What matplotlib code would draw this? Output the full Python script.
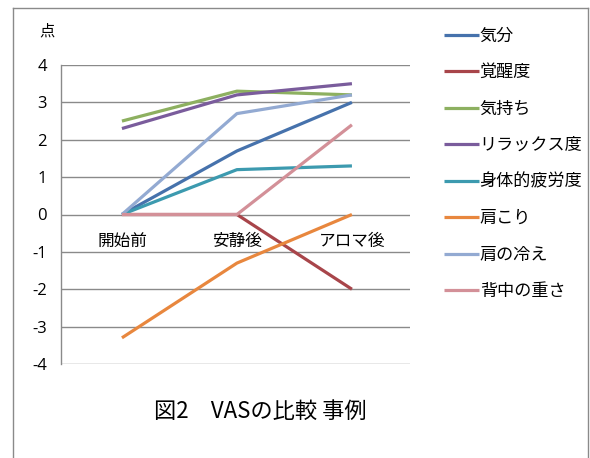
import matplotlib
matplotlib.use("Agg")
import matplotlib.pyplot as plt
from matplotlib.lines import Line2D

plt.rcParams['font.family'] = ['Noto Sans CJK JP', 'DejaVu Sans']

categories = ["開始前", "安静後", "アロマ後"]
series_names = ["気分", "覚醒度", "気持ち", "リラックス度", "身体的疲労度", "肩こり", "肩の冷え", "背中の重さ"]
kibun = [0, 1.7, 3.0]
kakuseido = [0, 0, -2.0]
kimochi = [2.5, 3.3, 3.2]
relax = [2.3, 3.2, 3.5]
hirou = [0, 1.2, 1.3]
katakori = [-3.3, -1.3, 0]
katanohie = [0, 2.7, 3.2]
senaka = [0, 0, 2.4]
yticks = [4, 3, 2, 1, 0, -1, -2, -3, -4]

series_values = [kibun, kakuseido, kimochi, relax, hirou, katakori, katanohie, senaka]
colors = ["#4672AC", "#A8454A", "#8DB060", "#7A5C9C", "#3C9AAF", "#E8873E", "#93AAD2", "#D39098"]

fig = plt.figure(figsize=(5.9, 4.58), dpi=100)
ax = fig.add_axes([61/590, 1-364/458, (410-61)/590, (364-65)/458])

x = list(range(len(categories)))
handles = []
for name, vals, c in zip(series_names, series_values, colors):
    h, = ax.plot(x, vals, color=c, lw=2.3, solid_capstyle='butt', label=name)
    handles.append(h)

ax.set_xlim(-0.53, 2.505)
ax.set_ylim(-4, 4)

ax.spines['bottom'].set_position(('data', 0))
ax.spines['bottom'].set_visible(False)
for s in ['top', 'right']:
    ax.spines[s].set_visible(False)
ax.spines['left'].set_color("#8a8a8a")
ax.spines['left'].set_linewidth(1)

ax.set_yticks(yticks)
ax.set_yticklabels([str(v) for v in yticks], fontsize=12, family=['Open Sans', 'DejaVu Sans'])
ax.yaxis.grid(True, color="#8a8a8a", lw=1)
ax.set_axisbelow(True)
ax.tick_params(axis='y', length=0, pad=10)

ax.set_xticks(x)
ax.set_xticklabels(categories, fontsize=12)
ax.tick_params(axis='x', length=0, pad=13, labelsize=12)

ax.text(-0.04, 1.115, "点", transform=ax.transAxes, fontsize=11, ha='center', va='center')

fig.legend(handles=handles, labels=series_names, loc='upper left',
           bbox_to_anchor=(437/590, 1-20/458), frameon=False, fontsize=12.3,
           handlelength=2.05, handletextpad=0.05, labelspacing=1.08, borderaxespad=0)

fig.text(260/590, 1-411/458, "図2　VASの比較 事例", fontsize=16, ha='center', va='center')

# outer border
bc = "#8a8a8a"
fig.add_artist(Line2D([13/590, 13/590], [0, 1-8/458], color=bc, lw=1, transform=fig.transFigure))
fig.add_artist(Line2D([13/590, 588/590], [1-8/458, 1-8/458], color=bc, lw=1, transform=fig.transFigure))
fig.add_artist(Line2D([588/590, 588/590], [0, 1-8/458], color=bc, lw=1, transform=fig.transFigure))

fig.savefig("out.png", dpi=100)
